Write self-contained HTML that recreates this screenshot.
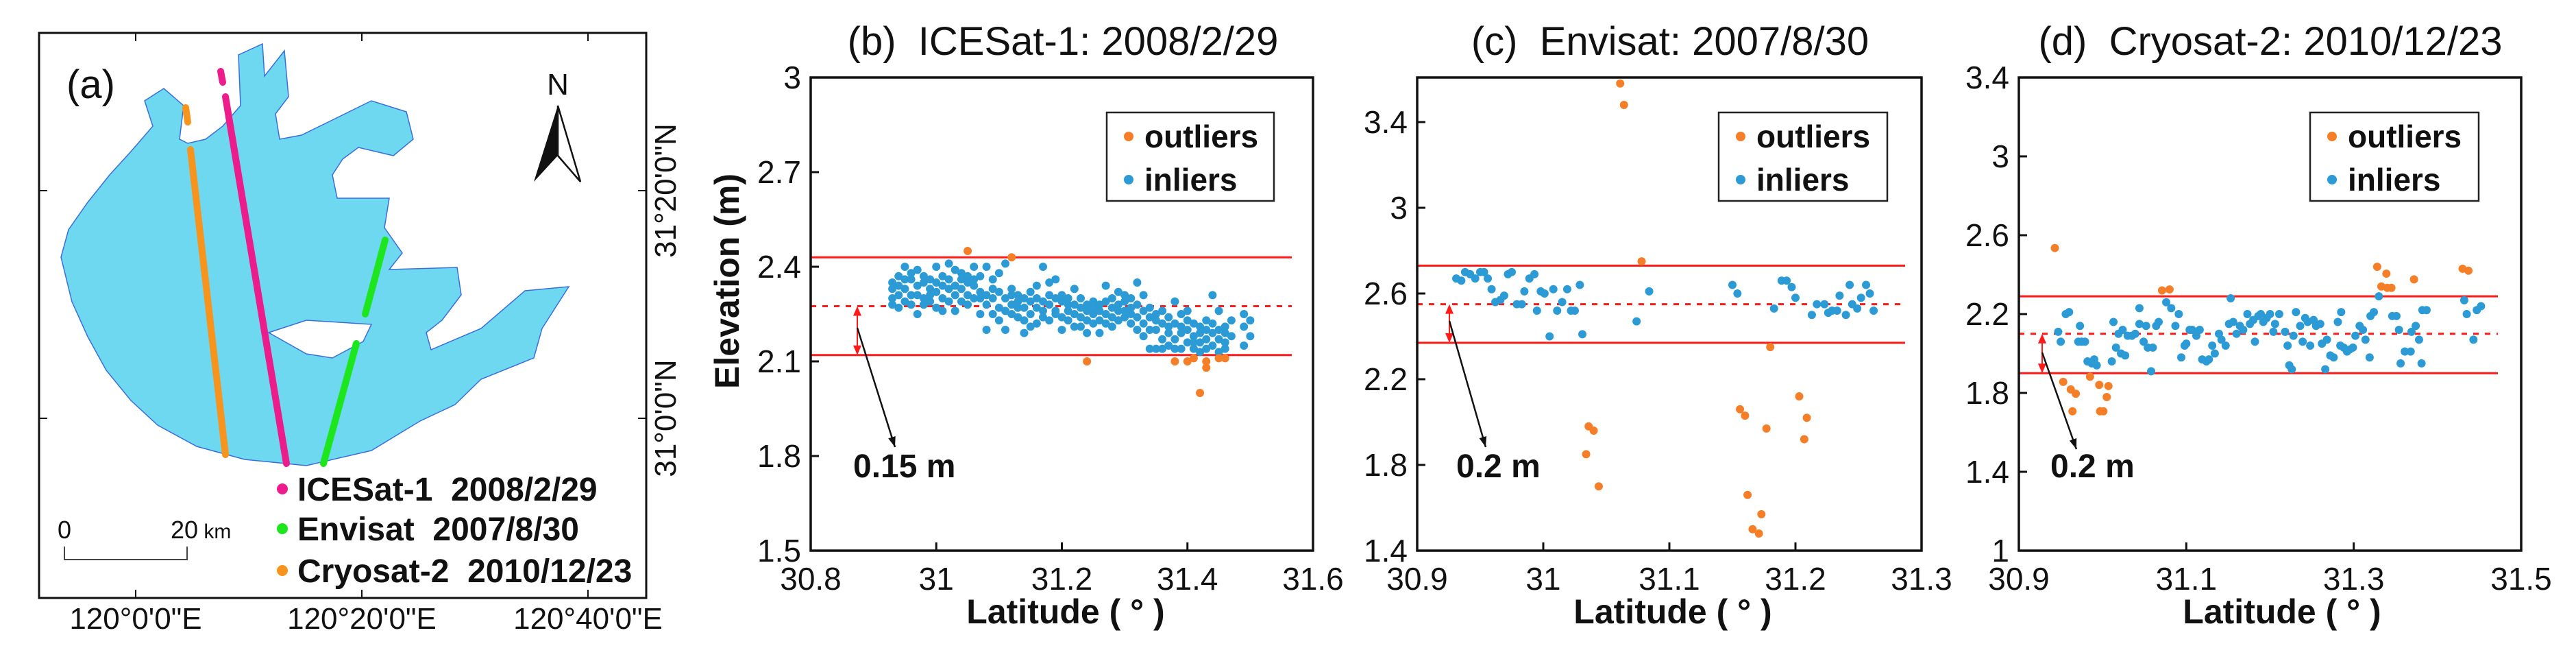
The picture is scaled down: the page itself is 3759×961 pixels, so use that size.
<!DOCTYPE html>
<html><head><meta charset="utf-8"><style>
html,body{margin:0;padding:0;background:#fff}
svg{display:block}
text{font-family:"Liberation Sans",Arial,sans-serif}
</style></head><body>
<svg id="fig" width="3759" height="961" viewBox="0 0 3759 961" xmlns="http://www.w3.org/2000/svg">
<g id="map">
  <path fill="#6dd8f0" stroke="#3a6fd8" stroke-width="1.5" fill-rule="evenodd"
    d="M348,80 L383,64 L386,111 L415,74 L421,141 L402,166 L408,203 L440,197 L485,175 L542,147 L593,163 L603,203 L574,227 L523,215 L500,232 L485,255 L492,289 L542,289 L568,289 L561,332 L587,369 L568,393 L667,390 L673,430 L645,467 L622,485 L629,510 L702,479 L766,424 L830,418 L791,479 L779,522 L702,553 L664,590 L613,614 L542,657 L447,679 L357,670 L287,651 L230,620 L191,584 L155,540 L128,491 L105,440 L89,375 L100,335 L128,295 L160,255 L191,221 L223,184 L211,147 L239,129 L268,154 L262,203 L274,209 L300,203 L325,184 L351,154 Z
    M392,485 L447,467 L542,473 L530,498 L485,522 L447,516 L415,498 Z"/>
  <g stroke-linecap="round" stroke-width="10">
    <line x1="271" y1="157" x2="274" y2="178" stroke="#f7941d"/>
    <line x1="278" y1="218" x2="329" y2="663" stroke="#f7941d"/>
    <line x1="322" y1="104" x2="325" y2="120" stroke="#ec1c8c"/>
    <line x1="329" y1="141" x2="418" y2="676" stroke="#ec1c8c"/>
    <line x1="562" y1="350" x2="533" y2="458" stroke="#1ee61e"/>
    <line x1="520" y1="501" x2="472" y2="676" stroke="#1ee61e"/>
  </g>
  <rect x="57" y="48" width="886" height="824" fill="none" stroke="#111" stroke-width="3"/>
  <g stroke="#111" stroke-width="2">
    <line x1="198" y1="48" x2="198" y2="60"/><line x1="528" y1="48" x2="528" y2="60"/><line x1="858" y1="48" x2="858" y2="60"/>
    <line x1="198" y1="872" x2="198" y2="860"/><line x1="528" y1="872" x2="528" y2="860"/><line x1="858" y1="872" x2="858" y2="860"/>
    <line x1="57" y1="278" x2="69" y2="278"/><line x1="57" y1="610" x2="69" y2="610"/>
    <line x1="943" y1="278" x2="931" y2="278"/><line x1="943" y1="610" x2="931" y2="610"/>
  </g>
  <g font-size="44" fill="#111" text-anchor="middle">
    <text x="198" y="917">120°0'0"E</text>
    <text x="528" y="917">120°20'0"E</text>
    <text x="858" y="917">120°40'0"E</text>
    <text transform="translate(986,278) rotate(-90)">31°20'0"N</text>
    <text transform="translate(986,610) rotate(-90)">31°0'0"N</text>
  </g>
  <text x="97" y="143" font-size="58" fill="#111">(a)</text>
  <g>
    <text x="814" y="138" font-size="44" text-anchor="middle" fill="#111">N</text>
    <path d="M814,154 L779,265 L814,227 Z" fill="#111"/>
    <path d="M814,154 L847,265 L814,227 Z" fill="#fff" stroke="#111" stroke-width="2.5"/>
  </g>
  <g>
    <text x="94" y="785" font-size="36" text-anchor="middle" fill="#111">0</text>
    <text x="249" y="785" font-size="36" fill="#111">20<tspan font-size="30"> km</tspan></text>
    <path d="M94,797 L94,816 L273,816 L273,797" fill="none" stroke="#444" stroke-width="2"/>
  </g>
  <g font-size="48" font-weight="bold" fill="#111">
    <circle cx="412" cy="713" r="8" fill="#ec1c8c"/><text x="434" y="730" xml:space="preserve">ICESat-1  2008/2/29</text>
    <circle cx="412" cy="771" r="8" fill="#1ee61e"/><text x="434" y="788" xml:space="preserve">Envisat  2007/8/30</text>
    <circle cx="412" cy="832" r="8" fill="#f7941d"/><text x="434" y="849" xml:space="preserve">Cryosat-2  2010/12/23</text>
  </g>
</g>
<g id="charts"></g>
</svg>
<script>
// ---------- Panel (b) ICESat-1 ----------
const bLat = [30.93,30.94,30.95,30.96,30.97,30.98,30.99,31.00,31.01,31.02,31.03,31.04,31.05,31.06,31.07,31.08,31.09,31.10,31.11,31.12,31.13,31.14,31.15,31.16,31.17,31.18,31.19,31.20,31.21,31.22,31.23,31.24,31.25,31.26,31.27,31.28,31.29,31.30,31.31,31.32,31.33,31.34,31.35,31.36,31.37,31.38,31.39,31.40,31.41,31.42,31.43,31.44,31.45,31.46,31.47,31.49,31.50];
const bElev = [[2.30,2.35,2.28,2.33],[2.37,2.31,2.27,2.34],[2.40,2.33,2.29,2.36],[2.36,2.31,2.38,2.28],[2.25,2.34,2.39,2.31],[2.37,2.30,2.28,2.35],[2.33,2.36,2.29,2.31],[2.40,2.32,2.27,2.35],[2.34,2.30,2.37,2.26],[2.41,2.33,2.29,2.36],[2.39,2.31,2.26,2.34],[2.36,2.33,2.29,2.38],[2.37,2.31,2.35,2.28],[2.40,2.34,2.30,2.36],[2.32,2.37,2.25,2.30],[2.40,2.20,2.31,2.28],[2.36,2.30,2.25,2.33],[2.27,2.32,2.38,2.23],[2.41,2.30,2.20,2.26],[2.33,2.28,2.31,2.25],[2.29,2.24,2.31,2.27],[2.19,2.27,2.30,2.23],[2.29,2.25,2.32,2.21],[2.34,2.27,2.30,2.22],[2.40,2.26,2.29,2.24],[2.35,2.28,2.31,2.23],[2.36,2.26,2.30,2.25],[2.20,2.29,2.24,2.31],[2.28,2.23,2.26,2.30],[2.33,2.25,2.21,2.28],[2.30,2.24,2.27,2.21],[2.23,2.28,2.26,2.19],[2.25,2.29,2.22,2.27],[2.19,2.26,2.28,2.23],[2.34,2.25,2.29,2.22],[2.27,2.24,2.30,2.21],[2.26,2.32,2.23,2.28],[2.29,2.24,2.31,2.26],[2.22,2.27,2.30,2.25],[2.35,2.24,2.20,2.28],[2.31,2.18,2.26,2.22],[2.14,2.24,2.20,2.27],[2.25,2.14,2.20,2.23],[2.17,2.22,2.14,2.26],[2.24,2.19,2.15,2.21],[2.29,2.22,2.17,2.14],[2.25,2.19,2.14,2.21],[2.26,2.20,2.16,2.23],[2.18,2.14,2.22,2.16],[2.21,2.16,2.13,2.19],[2.23,2.17,2.14,2.20],[2.31,2.19,2.15,2.22],[2.26,2.17,2.13,2.20],[2.21,2.16,2.19,2.14],[2.23,2.18],[2.25,2.15,2.21],[2.23,2.18]];
const bOutLat = [31.05,31.12,31.24,31.38,31.40,31.41,31.42,31.43,31.43,31.45,31.46];
const bOutElev = [2.45,2.43,2.10,2.10,2.10,2.11,2.00,2.10,2.08,2.11,2.11];
const bBounds = [2.43,2.275,2.12];
const bYTicks = [1.5,1.8,2.1,2.4,2.7,3];
const bXTicks = [30.8,31,31.2,31.4,31.6];

// ---------- Panel (c) Envisat ----------
const cInLat = [30.931,30.935,30.938,30.942,30.946,30.95,30.953,30.956,30.959,30.962,30.966,30.969,30.972,30.975,30.979,30.983,30.985,30.989,30.993,30.995,30.998,31.001,31.005,31.008,31.011,31.015,31.019,31.022,31.025,31.029,31.031,31.074,31.084,31.150,31.154,31.183,31.189,31.193,31.197,31.200,31.213,31.217,31.223,31.226,31.229,31.233,31.235,31.240,31.243,31.245,31.249,31.252,31.256,31.259,31.262];
const cInElev = [2.67,2.66,2.70,2.69,2.67,2.70,2.70,2.67,2.62,2.56,2.57,2.59,2.69,2.70,2.55,2.55,2.61,2.67,2.69,2.52,2.61,2.60,2.40,2.62,2.52,2.56,2.62,2.52,2.52,2.64,2.41,2.47,2.61,2.64,2.60,2.53,2.66,2.66,2.63,2.58,2.50,2.55,2.55,2.51,2.52,2.52,2.59,2.50,2.64,2.55,2.53,2.58,2.64,2.60,2.52];
const cOutLat = [31.061,31.064,31.078,31.180,31.034,31.036,31.040,31.044,31.156,31.160,31.162,31.166,31.171,31.173,31.177,31.203,31.207,31.209];
const cOutElev = [3.58,3.48,2.75,2.35,1.85,1.98,1.96,1.70,2.06,2.03,1.66,1.50,1.48,1.57,1.97,2.12,1.92,2.02];
const cBounds = [2.73,2.55,2.37];
const cYTicks = [1.4,1.8,2.2,2.6,3,3.4];
const cXTicks = [30.9,31,31.1,31.2,31.3];

// ---------- Panel (d) Cryosat-2 ----------
const dInLat = [30.947,30.950,30.956,30.960,30.973,30.971,30.975,30.979,30.982,30.987,30.990,30.993,31.011,31.013,31.016,31.019,31.024,31.022,31.027,31.030,31.035,31.039,31.044,31.044,31.049,31.052,31.054,31.058,31.060,31.064,31.067,31.076,31.082,31.087,31.091,31.094,31.098,31.100,31.104,31.107,31.112,31.116,31.119,31.124,31.127,31.131,31.134,31.139,31.142,31.147,31.151,31.153,31.156,31.160,31.164,31.168,31.173,31.176,31.180,31.182,31.186,31.189,31.192,31.196,31.200,31.204,31.206,31.211,31.218,31.221,31.223,31.226,31.228,31.231,31.236,31.239,31.242,31.245,31.248,31.252,31.255,31.260,31.262,31.266,31.268,31.272,31.276,31.281,31.285,31.284,31.288,31.292,31.295,31.299,31.302,31.307,31.311,31.314,31.319,31.320,31.324,31.330,31.346,31.351,31.354,31.356,31.361,31.368,31.369,31.374,31.378,31.381,31.382,31.387,31.432,31.435,31.443,31.447,31.452];
const dInElev = [2.11,2.06,2.20,2.21,2.14,2.06,2.06,2.06,1.96,1.95,1.97,1.94,1.96,2.16,2.03,2.10,2.12,2.00,1.99,2.09,2.09,2.10,2.23,2.15,2.06,2.14,2.03,1.91,2.03,2.14,2.16,2.26,2.23,2.14,2.20,1.98,2.04,2.05,2.12,2.12,2.09,2.12,1.97,1.96,1.97,2.04,2.00,2.10,2.07,2.04,2.15,2.28,2.16,2.10,2.14,2.12,2.20,2.15,2.17,2.06,2.19,2.20,2.16,2.18,2.20,2.11,2.15,2.20,2.11,2.04,1.94,1.92,2.09,2.21,2.14,2.06,2.18,2.16,2.04,2.17,2.14,2.15,2.05,1.92,2.07,1.99,1.98,2.16,2.21,2.04,2.03,2.01,2.02,2.03,2.09,2.14,2.12,2.07,1.98,2.19,2.21,2.29,2.19,2.19,2.12,1.95,2.01,2.01,2.11,2.14,2.07,1.95,2.22,2.22,2.27,2.20,2.07,2.22,2.24];
const dOutLat = [30.943,30.953,30.962,30.964,30.968,30.985,30.996,30.997,31.001,31.005,31.007,31.071,31.080,31.328,31.333,31.339,31.340,31.345,31.372,31.430,31.437];
const dOutElev = [2.535,1.856,1.818,1.707,1.796,1.882,1.841,1.707,1.707,1.779,1.835,2.32,2.325,2.44,2.34,2.405,2.333,2.333,2.376,2.43,2.42];
const dBounds = [2.29,2.10,1.90];
const dYTicks = [1,1.4,1.8,2.2,2.6,3,3.4];
const dXTicks = [30.9,31.1,31.3,31.5];

const NS = 'http://www.w3.org/2000/svg';
const ORANGE = '#f57f29', BLUE = '#2b9ad5';
const root = document.getElementById('charts');
function mk(tag, attrs, parent) {
  const e = document.createElementNS(NS, tag);
  for (const k in attrs) e.setAttribute(k, attrs[k]);
  (parent || root).appendChild(e);
  return e;
}
function fmt(v){ return String(+v.toFixed(2)); }

function panel(o) {
  const g = mk('g', {});
  
  
  const X = v => o.x0 + (v - o.xmin) / (o.xmax - o.xmin) * (o.x1 - o.x0);
  const Y = v => o.y1 - (v - o.ymin) / (o.ymax - o.ymin) * (o.y1 - o.y0);
  const t = mk('text', {x: o.titleX, y: 80, 'font-size': 58, 'text-anchor': 'middle', fill: '#111'}, g);
  t.textContent = o.title;
  
  
  o.yTicks.forEach(v => {
    const l = mk('line', {x1: o.x0, x2: o.x0 + 12, y1: Y(v), y2: Y(v), stroke: '#111', 'stroke-width': 3}, g);
    
    
    const tx = mk('text', {x: o.x0 - 14, y: Y(v) + 16, 'font-size': 46, 'text-anchor': 'end', fill: '#111'}, g);
    tx.textContent = fmt(v);
    
    
  });
  o.xTicks.forEach(v => {
    const l = mk('line', {x1: X(v), x2: X(v), y1: o.y1, y2: o.y1 - 12, stroke: '#111', 'stroke-width': 3}, g);
    
    
    const tx = mk('text', {x: X(v), y: 860, 'font-size': 46, 'text-anchor': 'middle', fill: '#111'}, g);
    tx.textContent = fmt(v);
    
    
  });
  o.bounds.forEach((v, i) => {
    const l = mk('line', {x1: o.x0, x2: o.lineEnd, y1: Y(v), y2: Y(v), stroke: '#ff1a1a', 'stroke-width': 3}, g);
    if (i === 1) l.setAttribute('stroke-dasharray', '8 9');
    
    
  });
  o.inliers.forEach(p => {
    const c = mk('circle', {cx: X(p[0]), cy: Y(p[1]), r: 6, fill: BLUE}, g);
    
    
  });
  o.outLat.forEach((v, i) => {
    const c = mk('circle', {cx: X(v), cy: Y(o.outElev[i]), r: 6, fill: ORANGE}, g);
    
    
  });
  const ax = o.arrowX, ym = Y(o.bounds[1]), yl = Y(o.bounds[2]);
  const ra = mk('line', {x1: ax, x2: ax, y1: ym + 10, y2: yl - 10, stroke: '#ff1a1a', 'stroke-width': 2}, g);
  
  
  mk('path', {d: `M${ax},${ym} l-6,14 l12,0 z M${ax},${yl} l-6,-14 l12,0 z`, fill: '#ff1a1a'}, g);
  const ba = mk('line', {x1: ax, y1: o.blackStart, x2: o.blackEnd[0], y2: o.blackEnd[1], stroke: '#111', 'stroke-width': 2.5}, g);
  
  
  const ex = o.blackEnd[0], ey = o.blackEnd[1];
  const ang = Math.atan2(ey - o.blackStart, ex - ax);
  const h = 16;
  mk('path', {d: `M${ex},${ey} L${ex - h*Math.cos(ang - 0.35)},${ey - h*Math.sin(ang - 0.35)} L${ex - h*Math.cos(ang + 0.35)},${ey - h*Math.sin(ang + 0.35)} Z`, fill: '#111'}, g);
  const at = mk('text', {x: o.annoX, y: 696, 'font-size': 48, 'font-weight': 'bold', fill: '#111'}, g);
  at.textContent = o.anno;
  
  
  const lg = mk('g', {}, g);
  
  
  mk('rect', {x: o.leg[0], y: 164, width: o.leg[1] - o.leg[0], height: 129, fill: '#fff', stroke: '#222', 'stroke-width': 2.5}, lg);
  mk('circle', {cx: o.leg[0] + 32, cy: 199, r: 7, fill: ORANGE}, lg);
  mk('circle', {cx: o.leg[0] + 32, cy: 262, r: 7, fill: BLUE}, lg);
  const l1 = mk('text', {x: o.leg[0] + 55, y: 215, 'font-size': 46, 'font-weight': 'bold', fill: '#111'}, lg);
  l1.textContent = 'outliers';
  
  
  const l2 = mk('text', {x: o.leg[0] + 55, y: 278, 'font-size': 46, 'font-weight': 'bold', fill: '#111'}, lg);
  l2.textContent = 'inliers';
  
  
  const fr = mk('rect', {x: o.x0, y: o.y0, width: o.x1 - o.x0, height: o.y1 - o.y0, fill: 'none', stroke: '#111', 'stroke-width': 3.5}, g);
  
  
  const xl = mk('text', {x: o.xlabX, y: 909, 'font-size': 50, 'font-weight': 'bold', 'text-anchor': 'middle', fill: '#111'}, g);
  xl.textContent = 'Latitude ( ° )';
  
  
  if (o.ylab) {
    const yl2 = mk('text', {transform: `translate(1078,410) rotate(-90)`, 'font-size': 50, 'font-weight': 'bold', 'text-anchor': 'middle', fill: '#111'}, g);
    yl2.textContent = o.ylab;
    
    
  }
}

const bIn = [];
bLat.forEach((x, i) => bElev[i].forEach(y => bIn.push([x, y])));
const cIn = cInLat.map((x, i) => [x, cInElev[i]]);
const dIn = dInLat.map((x, i) => [x, dInElev[i]]);

panel({id:'icesat', title:'(b)\u00a0\u00a0ICESat-1: 2008/2/29', titleX:1551, x0:1183, x1:1916, y0:113, y1:803,
  xmin:30.8, xmax:31.6, ymin:1.5, ymax:3, xTicks:bXTicks, yTicks:bYTicks, bounds:bBounds, lineEnd:1885,
  inliers:bIn, outLat:bOutLat, outElev:bOutElev, arrowX:1251, blackStart:478, blackEnd:[1306,652],
  anno:'0.15 m', annoX:1245, leg:[1615,1859], xlabX:1555, ylab:'Elevation (m)'});
panel({id:'envisat', title:'(c)\u00a0\u00a0Envisat: 2007/8/30', titleX:2437, x0:2068, x1:2804, y0:113, y1:803,
  xmin:30.9, xmax:31.3, ymin:1.4, ymax:3.608, xTicks:cXTicks, yTicks:cYTicks, bounds:cBounds, lineEnd:2780,
  inliers:cIn, outLat:cOutLat, outElev:cOutElev, arrowX:2115, blackStart:468, blackEnd:[2168,652],
  anno:'0.2 m', annoX:2125, leg:[2508,2754], xlabX:2441});
panel({id:'cryosat', title:'(d)\u00a0\u00a0Cryosat-2: 2010/12/23', titleX:3313, x0:2946, x1:3679, y0:113, y1:803,
  xmin:30.9, xmax:31.5, ymin:1, ymax:3.4, xTicks:dXTicks, yTicks:dYTicks, bounds:dBounds, lineEnd:3645,
  inliers:dIn, outLat:dOutLat, outElev:dOutElev, arrowX:2980, blackStart:514, blackEnd:[3030,655],
  anno:'0.2 m', annoX:2992, leg:[3371,3617], xlabX:3330});
</script>
</body></html>
